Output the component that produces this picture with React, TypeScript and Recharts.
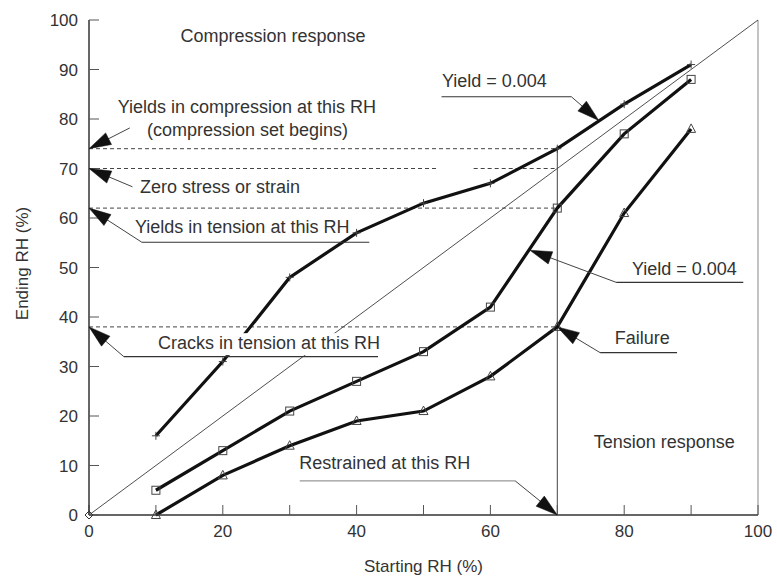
import React from 'react';
import { LineChart, Line, XAxis, YAxis, ReferenceLine, ReferenceDot } from 'recharts';

// ---- data ----
const startRH = [10, 20, 30, 40, 50, 60, 70, 80, 90];
const compressionCurve = [16, 31, 48, 57, 63, 67, 74, 83, 91];
const yieldCurve = [5, 13, 21, 27, 33, 42, 62, 77, 88];
const failureCurve = [0, 8, 14, 19, 21, 28, 38, 61, 78];
const xTicks = [0, 10, 20, 30, 40, 50, 60, 70, 80, 90, 100];
const yTicks = [0, 10, 20, 30, 40, 50, 60, 70, 80, 90, 100];

// dashed horizontal guide lines: [level, fromX, toX]
const dashedGuides: [number, number, number][] = [
  [74, 0, 70],
  [70, 0, 52],
  [70, 57.5, 70],
  [62, 0, 70],
  [38, 0, 70],
];

// annotation texts: [text, x, y(baseline)] in data units
const noteTexts: [string, number, number][] = [
  ['Compression response', 27.5, 95.6],
  ['Yields in compression at this RH', 23.6, 81.2],
  ['(compression set begins)', 23.7, 76.6],
  ['Zero stress or strain', 19.6, 65.1],
  ['Yields in tension at this RH', 22.9, 57.0],
  ['Cracks in tension at this RH', 26.9, 33.5],
  ['Yield = 0.004', 60.6, 86.4],
  ['Yield = 0.004', 89.0, 48.5],
  ['Failure', 82.7, 34.5],
  ['Restrained at this RH', 44.2, 9.2],
  ['Tension response', 86.0, 13.5],
];
const maskedNotes = ['Cracks in tension at this RH'];

// underlines: [x1, x2, y, grey]
const underlines: [number, number, number, boolean][] = [
  [7.9, 41.9, 55.1, false],
  [5.2, 43.2, 32.0, false],
  [52.7, 72.1, 84.5, false],
  [78.8, 97.8, 47.0, false],
  [76.4, 87.9, 32.8, false],
  [31.5, 63.7, 6.9, true],
];

// arrows: [fromX, fromY, tipX, tipY]
const arrows: [number, number, number, number][] = [
  [6.1, 78.2, 0, 74],
  [6.5, 66.3, 0, 70],
  [7.9, 55.1, 0, 62],
  [5.2, 32.0, 0, 38],
  [72.1, 84.5, 76.2, 79.7],
  [78.8, 47.0, 65.9, 53.5],
  [76.4, 32.8, 70, 38],
  [63.7, 6.9, 70, 0],
];

const rows = startRH.map((x, i) => ({
  x,
  comp: compressionCurve[i],
  yld: yieldCurve[i],
  fail: failureCurve[i],
}));

const FONT = '"Liberation Sans", Arial, Helvetica, sans-serif';
const TXT = '#333';
const W = 777;
const H = 583;

const ArrowShape = (props: any) => {
  const { x1, y1, x2, y2 } = props;
  const dx = x2 - x1;
  const dy = y2 - y1;
  const len = Math.hypot(dx, dy) || 1;
  const ux = dx / len;
  const uy = dy / len;
  const L = 22;
  const HW = 6.5;
  const bx = x2 - ux * L;
  const by = y2 - uy * L;
  const pts = `${x2},${y2} ${bx - uy * HW},${by + ux * HW} ${bx + uy * HW},${by - ux * HW}`;
  return (
    <g>
      <line x1={x1} y1={y1} x2={bx + ux * 4} y2={by + uy * 4} stroke="#444" strokeWidth={1} />
      <polygon points={pts} fill="#111" stroke="#111" strokeWidth={0.5} />
    </g>
  );
};

const makeTextShape = (text: string, masked: boolean) => (p: any) => {
  const w = text.length * 7.9;
  return (
    <g>
      {masked ? (
        <rect x={p.cx - w / 2} y={p.cy - 16} width={w} height={22} fill="#ffffff" stroke="none" />
      ) : null}
      <text x={p.cx} y={p.cy} textAnchor="middle" fontSize={18} fill={TXT} fontFamily={FONT}>
        {text}
      </text>
    </g>
  );
};

const plusDot = (p: any) => (
  <g key={`pl-${p.index}`}>
    <line x1={p.cx - 4} y1={p.cy} x2={p.cx + 4} y2={p.cy} stroke="#444" strokeWidth={1} />
    <line x1={p.cx} y1={p.cy - 4} x2={p.cx} y2={p.cy + 4} stroke="#444" strokeWidth={1} />
  </g>
);
const squareDot = (p: any) => (
  <rect key={`sq-${p.index}`} x={p.cx - 4} y={p.cy - 4} width={8} height={8} fill="none" stroke="#444" strokeWidth={1} />
);
const triDot = (p: any) => (
  <polygon
    key={`tr-${p.index}`}
    points={`${p.cx},${p.cy - 5} ${p.cx - 4.5},${p.cy + 3.5} ${p.cx + 4.5},${p.cy + 3.5}`}
    fill="none"
    stroke="#444"
    strokeWidth={1}
  />
);
const diamondShape = (p: any) => (
  <polygon
    points={`${p.cx},${p.cy - 4} ${p.cx + 4},${p.cy} ${p.cx},${p.cy + 4} ${p.cx - 4},${p.cy}`}
    fill="none"
    stroke="#333"
    strokeWidth={1}
  />
);

const yLabel = (props: any) => {
  const vb = props.viewBox || {};
  const cx = vb.x + 22;
  const cy = vb.y + vb.height / 2 - 4;
  return (
    <text
      x={cx}
      y={cy}
      transform={`rotate(-90 ${cx} ${cy})`}
      textAnchor="middle"
      dominantBaseline="central"
      fontSize={17}
      fill={TXT}
      fontFamily={FONT}
    >
      Ending RH (%)
    </text>
  );
};

const xLabel = (props: any) => {
  const vb = props.viewBox || {};
  return (
    <text
      x={vb.x + vb.width / 2}
      y={vb.y + vb.height - 11}
      textAnchor="middle"
      fontSize={17}
      fill={TXT}
      fontFamily={FONT}
    >
      Starting RH (%)
    </text>
  );
};

export default function App() {
  return (
    <div style={{ position: 'absolute', left: 0, top: 0, width: W, height: H, background: '#fff' }}>
      <div style={{ position: 'absolute', left: 0, top: 0, zIndex: 1 }}>
        <LineChart width={W} height={H} data={rows} margin={{ top: 20, right: 19, bottom: 0, left: 0 }}>
          <XAxis
            dataKey="x"
            type="number"
            domain={[0, 100]}
            ticks={xTicks}
            tickFormatter={(v: number) => (v % 20 === 0 ? String(v) : '')}
            height={68}
            tickSize={-10}
            tickMargin={20}
            axisLine={{ stroke: '#333', strokeWidth: 1.5 }}
            tickLine={{ stroke: '#555', strokeWidth: 1 }}
            tick={{ fontSize: 17, fill: TXT, fontFamily: FONT }}
            label={{ content: xLabel }}
          />
          <YAxis
            type="number"
            domain={[0, 100]}
            ticks={yTicks}
            width={89}
            tickSize={-10}
            tickMargin={21}
            axisLine={{ stroke: '#333', strokeWidth: 1.5 }}
            tickLine={{ stroke: '#555', strokeWidth: 1 }}
            tick={{ fontSize: 17, fill: TXT, fontFamily: FONT }}
            label={{ content: yLabel }}
          />
          <ReferenceLine x={100} stroke="#888" strokeWidth={1} />
          <ReferenceLine segment={[{ x: 0, y: 0 }, { x: 100, y: 100 }]} stroke="#222" strokeWidth={0.8} />
          <ReferenceLine segment={[{ x: 70, y: 0 }, { x: 70, y: 74.5 }]} stroke="#444" strokeWidth={1} />
          {dashedGuides.map(([lvl, a, b], i) => (
            <ReferenceLine
              key={`dg-${i}`}
              segment={[{ x: a, y: lvl }, { x: b, y: lvl }]}
              stroke="#444"
              strokeWidth={1}
              strokeDasharray="4 3"
            />
          ))}
          <Line dataKey="comp" stroke="#111" strokeWidth={3.2} dot={plusDot} isAnimationActive={false} />
          <Line dataKey="yld" stroke="#111" strokeWidth={3.2} dot={squareDot} isAnimationActive={false} />
          <Line dataKey="fail" stroke="#111" strokeWidth={3.2} dot={triDot} isAnimationActive={false} />
          <ReferenceDot x={0} y={0} r={4} shape={diamondShape} ifOverflow="visible" />
        </LineChart>
      </div>
      <div style={{ position: 'absolute', left: 0, top: 0, zIndex: 2 }}>
        <LineChart width={W} height={H} data={rows} margin={{ top: 20, right: 19, bottom: 0, left: 0 }}>
          <XAxis dataKey="x" type="number" domain={[0, 100]} height={68} tick={false} axisLine={false} tickLine={false} />
          <YAxis type="number" domain={[0, 100]} width={89} tick={false} axisLine={false} tickLine={false} />
          <Line
            dataKey="comp"
            stroke="none"
            strokeWidth={0}
            dot={false}
            activeDot={false}
            isAnimationActive={false}
          />
          {noteTexts.map(([t, x, y], i) => (
            <ReferenceDot
              key={`nt-${i}`}
              x={x}
              y={y}
              r={1}
              ifOverflow="visible"
              shape={makeTextShape(t, maskedNotes.includes(t))}
            />
          ))}
          {underlines.map(([a, b, y, grey], i) => (
            <ReferenceLine
              key={`ul-${i}`}
              segment={[{ x: a, y }, { x: b, y }]}
              stroke={grey ? '#999' : '#333'}
              strokeWidth={1.2}
            />
          ))}
          {arrows.map(([fx, fy, tx, ty], i) => (
            <ReferenceLine
              key={`ar-${i}`}
              segment={[{ x: fx, y: fy }, { x: tx, y: ty }]}
              shape={ArrowShape}
              ifOverflow="visible"
            />
          ))}
        </LineChart>
      </div>
    </div>
  );
}
